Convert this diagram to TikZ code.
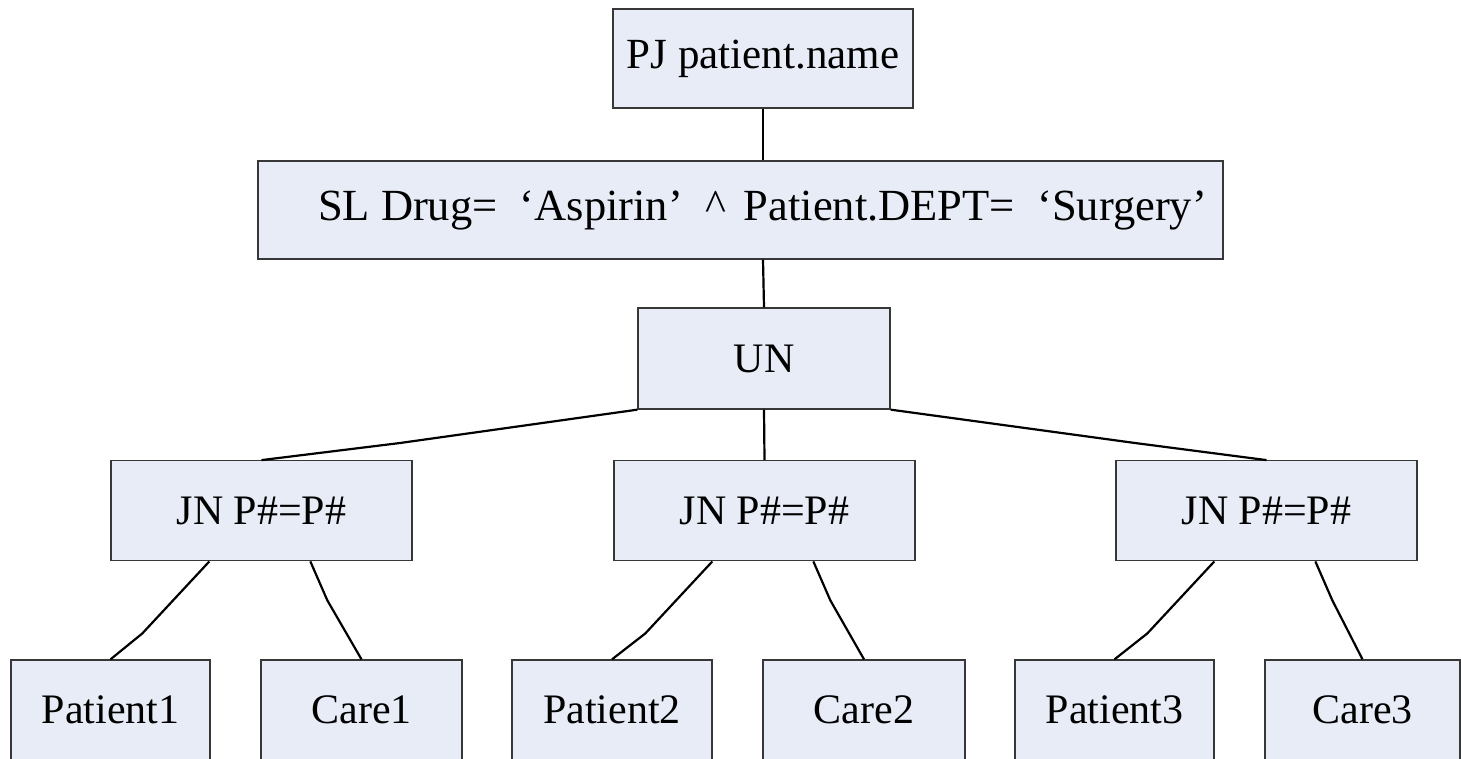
\documentclass[tikz,border=0pt]{standalone}
\usepackage{fontspec}
\setmainfont{Liberation Serif}
\usetikzlibrary{calc}
\definecolor{boxfill}{RGB}{231,236,246}
\definecolor{boxline}{RGB}{55,55,55}
\begin{document}
\begin{tikzpicture}[x=1pt,y=-1pt,
  box/.style={draw=boxline,line width=1.3pt,fill=boxfill,rectangle,inner sep=0pt,
    font=\fontsize{42}{42}\selectfont},
  conn/.style={draw=black,line width=2.2pt}]
\useasboundingbox (0,0) rectangle (1461,758);
\clip (0,0) rectangle (1461,758);
\node[box,minimum width=300pt,minimum height=99pt,font=\fontsize{43}{43}\selectfont] (pj) at (763,58.5) {PJ patient.name};
\node[box,minimum width=965pt,minimum height=98pt,font=\fontsize{44.5}{44.5}\selectfont] (sl) at (740.5,210)
  {\hspace*{44pt}SL Drug=\hspace{0.5em}‘Aspirin’\hspace{0.5em}\textasciicircum\hspace{0.4em}Patient.DEPT=\hspace{0.5em}‘Surgery’};
\node[box,minimum width=252pt,minimum height=101pt] (un) at (764,358.5) {UN};
\foreach \i/\o in {1/0,2/503,3/1005}{
  \node[box,minimum width=301pt,minimum height=100pt] (jn\i) at (261.5+\o,510.75) {JN P\#=P\#};
}
\node[box,minimum width=199pt,minimum height=100pt] (p1) at (110.5,710) {Patient1};
\node[box,minimum width=201pt,minimum height=100pt] (c1) at (361.5,710) {Care1};
\node[box,minimum width=200pt,minimum height=100pt] (p2) at (612,710) {Patient2};
\node[box,minimum width=202pt,minimum height=100pt] (c2) at (864,710) {Care2};
\node[box,minimum width=199pt,minimum height=100pt] (p3) at (1114.5,710) {Patient3};
\node[box,minimum width=195pt,minimum height=100pt] (c3) at (1362.5,710) {Care3};
\draw[conn] (pj.south) -- (pj.south |- sl.north);
\draw[conn] (pj.south |- sl.south) -- (un.north);
\draw[conn] (un.south) -- (jn2.north);
\draw[conn] (un.south west) -- (400,443) -- (jn1.north);
\draw[conn] (un.south east) -- (1135,443) -- (jn3.north);
\foreach \i in {1,2,3}{
  \draw[conn] ($(jn\i.south west)+(99,0)$) -- ($(jn\i.south west)+(32,72)$) -- (p\i.north);
  \draw[conn] ($(jn\i.south west)+(200,0)$) -- ($(jn\i.south west)+(217,39)$) -- (c\i.north);
}
\end{tikzpicture}
\end{document}
